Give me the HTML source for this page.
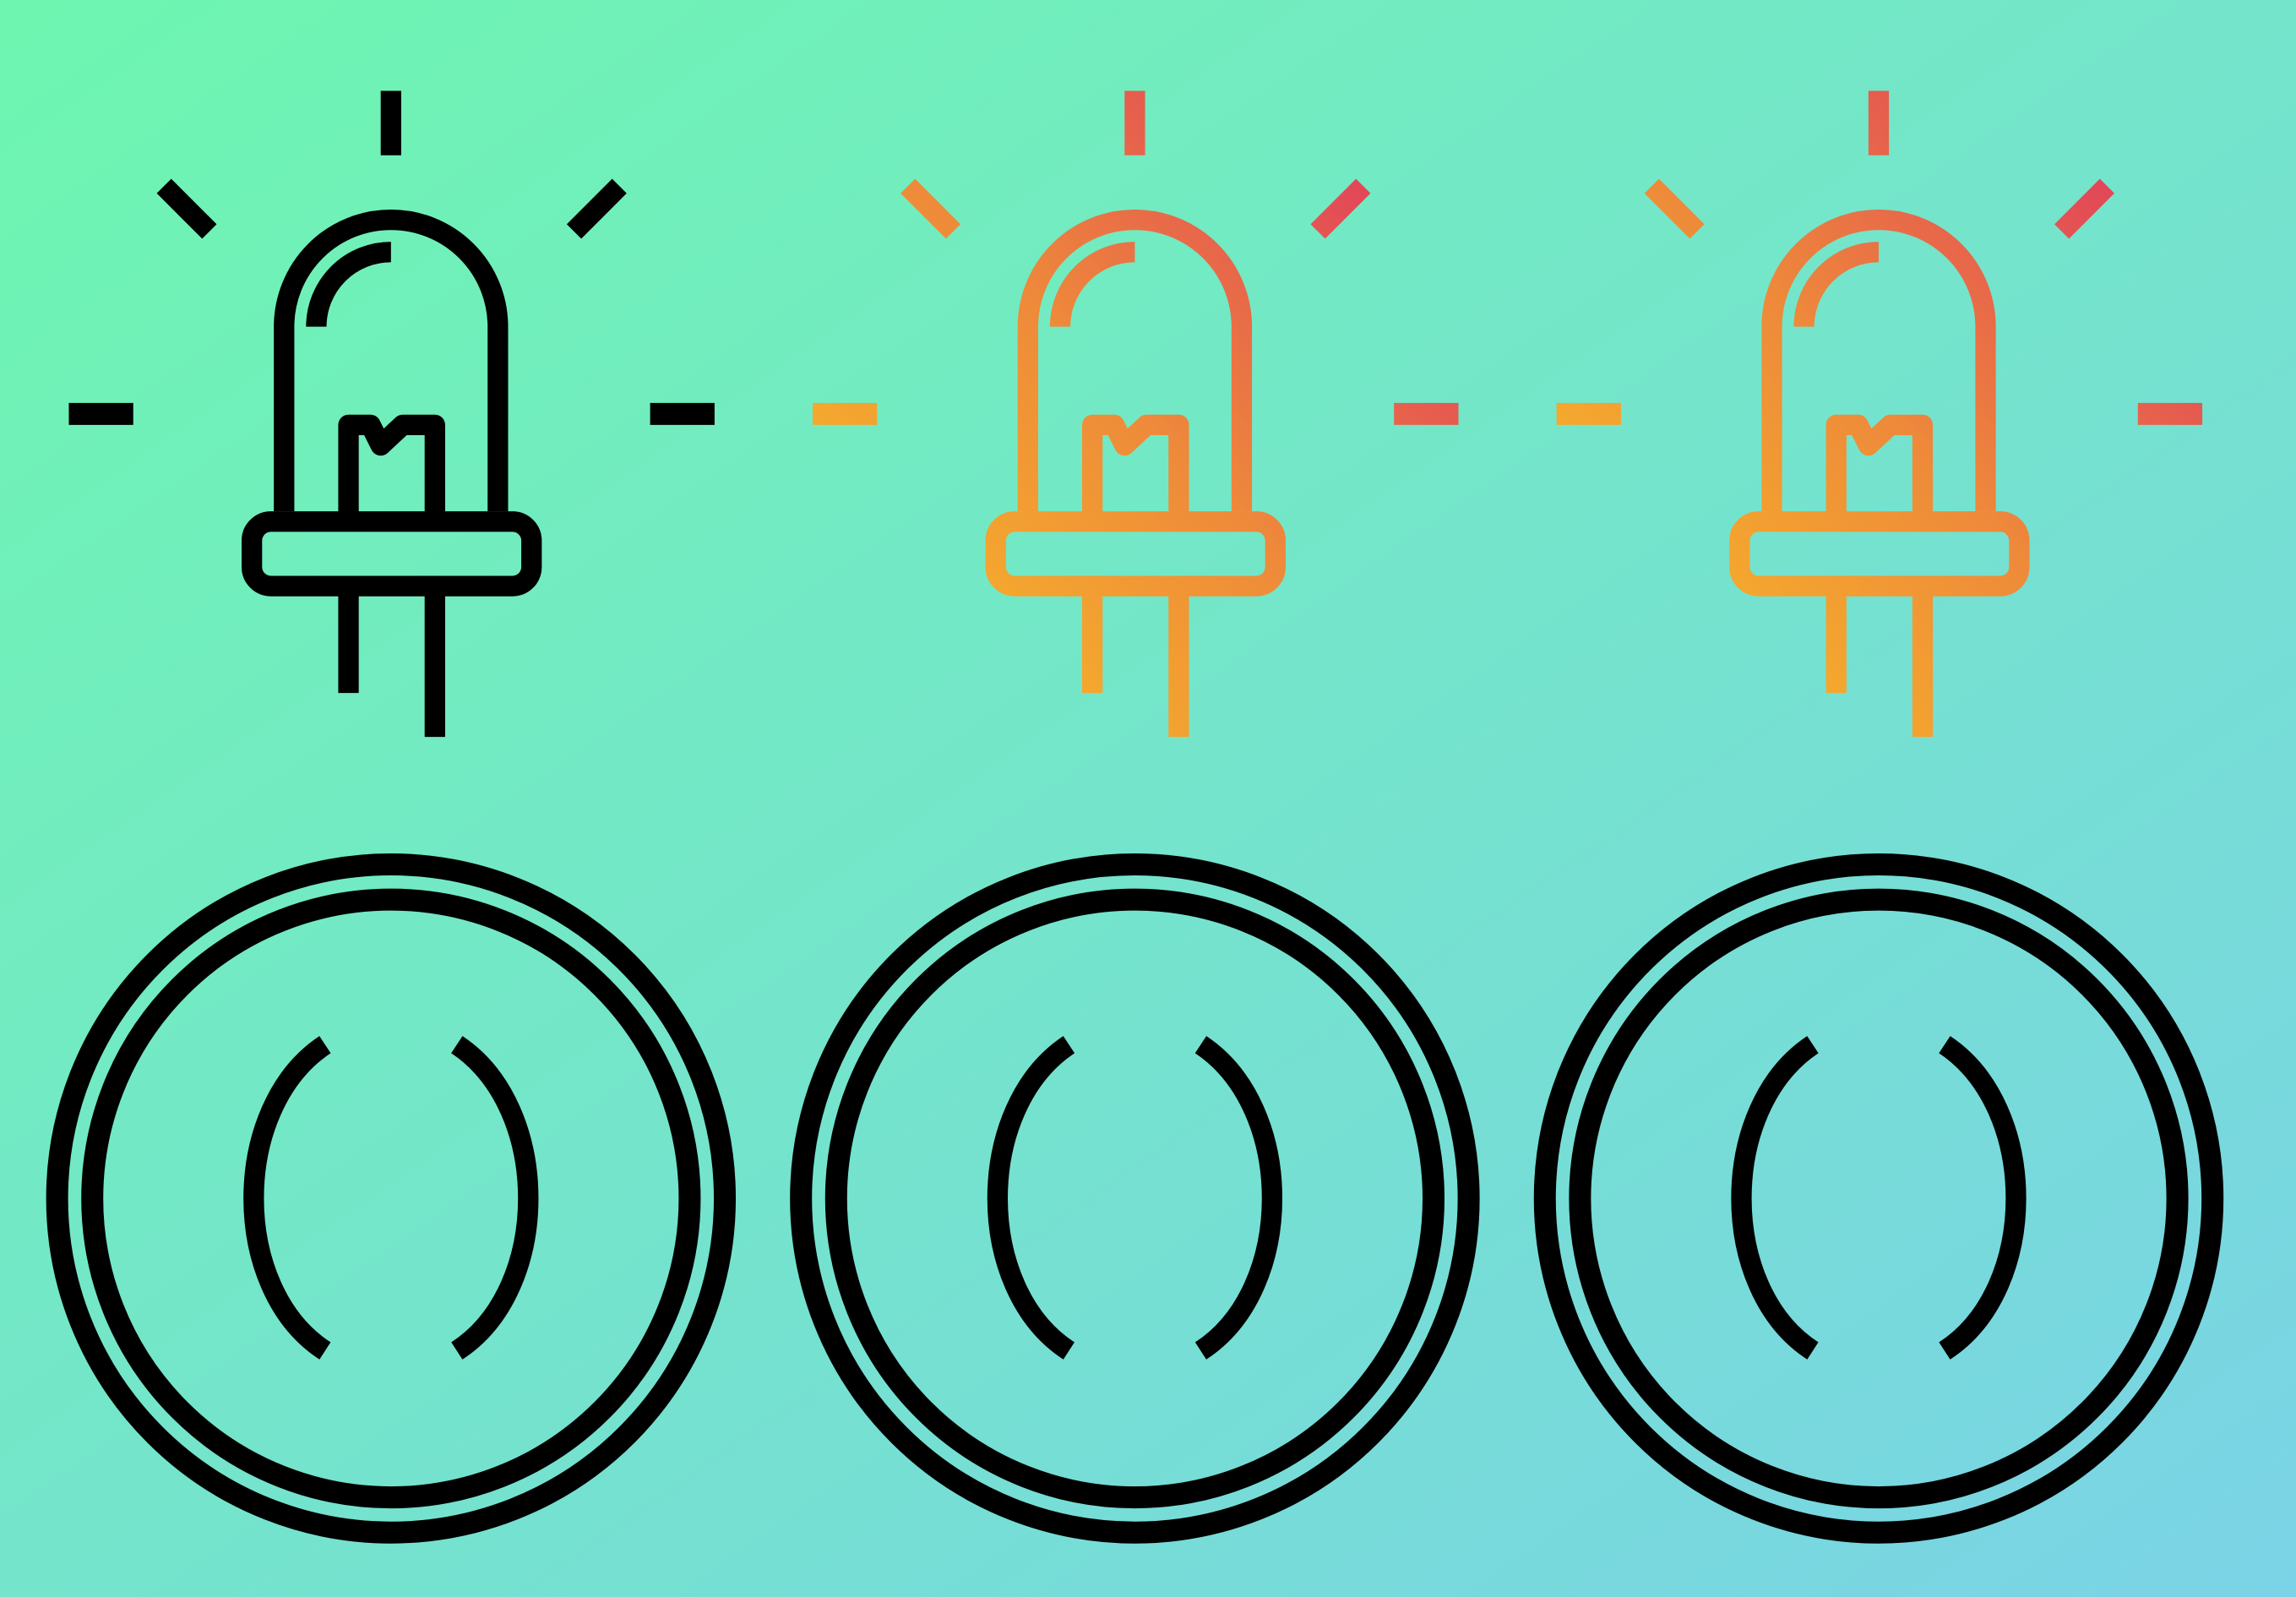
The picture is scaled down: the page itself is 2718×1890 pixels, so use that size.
<!DOCTYPE html>
<html><head><meta charset="utf-8"><style>
html,body{margin:0;padding:0;width:2718px;height:1890px;overflow:hidden}
svg{display:block}
</style></head><body>
<svg width="2718" height="1890" viewBox="0 0 1568 1090" preserveAspectRatio="none" xmlns="http://www.w3.org/2000/svg">
<defs>
<linearGradient id="bg" x1="0" y1="0" x2="1" y2="1">
<stop offset="0" stop-color="#6ef6b0"/><stop offset="1" stop-color="#7ad3e6"/>
</linearGradient>
<linearGradient id="gl" gradientUnits="userSpaceOnUse" x1="-210" y1="480" x2="210" y2="80">
<stop offset="0" stop-color="#f9c024"/><stop offset="0.5" stop-color="#ee8a3a"/><stop offset="1" stop-color="#de3162"/>
</linearGradient>
<g id="led" fill="none" stroke-width="14" stroke-linejoin="round">
<path d="M0,62 V106" stroke-linecap="butt"/>
<path d="M-155,127 L-124,158 M125,158 L156,127"/>
<path d="M-220,282.5 H-176 M177,282.5 H221" stroke-width="15"/>
<path d="M-73,349 V223 A73,73 0 0 1 73,223 V349"/>
<path d="M-51,223 A51,51 0 0 1 0,172"/>
<rect x="-95" y="356" width="191" height="44" rx="13"/>
<path d="M-29,352 V290 H-14 L-7,304 L8,290 H30 V352"/>
<path d="M-29,400 V473 M30,400 V503" stroke-linejoin="miter"/>
</g>
<g id="btn" fill="none" stroke="#000" stroke-width="15">
<circle cx="0" cy="818" r="228"/>
<circle cx="0" cy="818" r="204"/>
<path d="M-45,713 C-110,756 -110,880 -45,922 M45,713 C110,756 110,880 45,922" stroke-width="14"/>
</g>
</defs>
<rect width="1568" height="1090" fill="url(#bg)"/>
<g transform="translate(267,0)" stroke="#000"><use href="#led"/></g>
<g transform="translate(775,0)" stroke="url(#gl)"><use href="#led"/></g>
<g transform="translate(1283,0)" stroke="url(#gl)"><use href="#led"/></g>
<g transform="translate(267,0)"><use href="#btn"/></g>
<g transform="translate(775,0)"><use href="#btn"/></g>
<g transform="translate(1283,0)"><use href="#btn"/></g>
</svg>
</body></html>
